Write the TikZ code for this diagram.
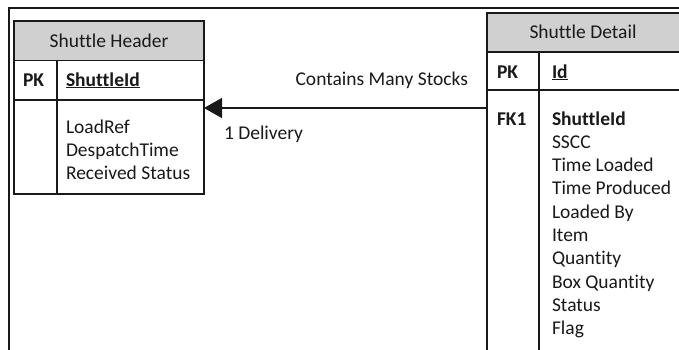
\documentclass[tikz,border=0pt]{standalone}
\usepackage{fontspec}
\setmainfont{Carlito}[Ligatures=NoCommon]
\usetikzlibrary{arrows.meta}
\definecolor{headgray}{RGB}{208,208,208}
\definecolor{ink}{RGB}{25,25,25}
\begin{document}
\begin{tikzpicture}[x=1pt,y=-1pt,
  rule/.style={draw=ink,line width=1.3pt},
  entity/.style={rule,rectangle,inner sep=0pt,outer sep=0pt},
  txt/.style={inner sep=0pt,outer sep=0pt,text=ink,font=\fontsize{19.5}{23}\selectfont},
  lbl/.style={txt,anchor=base west},
  key/.style={txt,anchor=base west,font=\fontsize{19.5}{23}\selectfont\bfseries}]
\useasboundingbox (0,0) rectangle (679,349);
\clip (0,0) rectangle (679,349);
\fill[white] (0,0) rectangle (679,349);

% outer frame (left and top edges)
\draw[rule] (9,352) -- (9,8) -- (684,8);

% ---- Shuttle Header entity ----
\fill[headgray] (14,21) rectangle (204,60.5);
\node[entity,minimum width=190pt,minimum height=173pt,anchor=north west] (hdr) at (14,21) {};
\draw[rule] (14,60.5) -- (204,60.5);
\draw[rule] (14,100) -- (204,100);
\draw[rule] (57,60.5) -- (57,194);
\node[txt,anchor=base] (hdrtitle) at (109,47) {Shuttle Header};
\node[key] (hdrpk) at (23,86) {PK};
\node[key] (hdrid) at (66,86) {\underline{ShuttleId}};
\foreach \t [count=\i] in {LoadRef,DespatchTime,Received Status}
  \node[lbl] (hf\i) at (66,{133+23.3*(\i-1)}) {\t};

% ---- Shuttle Detail entity ----
\fill[headgray] (487,13) rectangle (684,52);
\node[entity,minimum width=197pt,minimum height=345pt,anchor=north west] (dtl) at (487,13) {};
\draw[rule] (487,52) -- (684,52);
\draw[rule] (487,90) -- (684,90);
\draw[rule] (539,52) -- (539,360);
\node[txt,anchor=base] (dtltitle) at (583,38) {Shuttle Detail};
\node[key] (dtlpk) at (497,78) {PK};
\node[key] (dtlid) at (552,78) {\underline{Id}};
\node[key] (dtlfk) at (497,125) {FK1};
\node[key] (df0) at (552,125) {ShuttleId};
\foreach \t [count=\i] in {SSCC,Time Loaded,Time Produced,Loaded By,Item,Quantity,Box Quantity,Status,Flag}
  \node[lbl] (df\i) at (552,{125+23.3*\i}) {\t};

% ---- relationship ----
\coordinate (relA) at (dtl.west |- 0,108);
\coordinate (relB) at (hdr.east |- 0,108);
\draw[rule,-{Triangle[length=18pt,width=20pt]}] (relA) -- (relB);
\node[txt,anchor=base east] (many) at (468,85) {Contains Many Stocks};
\node[lbl] (one) at (224,139) {1 Delivery};
\end{tikzpicture}
\end{document}
